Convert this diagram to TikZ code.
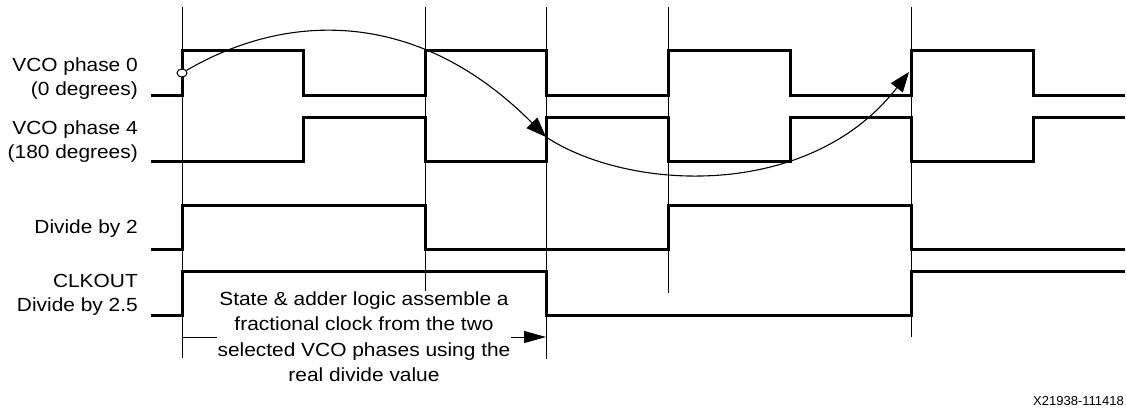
\documentclass[tikz,border=0pt]{standalone}
\usepackage{fontspec}
\setmainfont{Liberation Sans}[FakeStretch=1.1]
\newfontfamily\plainsans{Liberation Sans}
\usetikzlibrary{arrows.meta,shapes.geometric}
\begin{document}
\begin{tikzpicture}[x=1pt,y=-1pt,
  sig/.style={line width=3pt,line join=miter},
  gridline/.style={line width=1pt},
  curvearrow/.style={line width=1.1pt,-{Triangle[length=20pt,width=15pt]}},
  dimarrow/.style={line width=1pt,-{Triangle[length=22pt,width=12pt]}},
  lbl/.style={inner sep=0pt,align=right,font=\fontsize{19}{24}\selectfont},
  note/.style={fill=white,inner xsep=1pt,inner ysep=0pt,align=center,font=\fontsize{19}{25.6}\selectfont}]
\useasboundingbox (0,0) rectangle (1126,408);
% vertical reference lines
\draw[gridline] (182,7) -- (182,358);
\draw[gridline] (425,7) -- (425,293);
\draw[gridline] (546,7) -- (546,359);
\draw[gridline] (668,7) -- (668,293);
\draw[gridline] (911,7) -- (911,337);
% waveforms
\draw[sig] (151,95) -| (182,50) -| (303,95) -| (425,50) -| (546,95) -| (668,50) -| (790,95) -| (911,50) -| (1033,95) -- (1125,95);
\draw[sig] (151,161) -| (303,117) -| (425,161) -| (546,117) -| (668,161) -| (790,117) -| (911,161) -| (1033,117) -- (1125,117);
\draw[sig] (151,249) -| (182,205) -| (425,249) -| (668,205) -| (911,249) -- (1125,249);
\draw[sig] (151,315) -| (182,271) -| (546,315) -| (911,271) -- (1125,271);
% labels
\node[lbl,anchor=east] (l0) at (138,78.7) {VCO phase 0\\(0 degrees)};
\node[lbl,anchor=east] (l4) at (138,141.2) {VCO phase 4\\(180 degrees)};
\node[lbl,anchor=base east] (ld2) at (138,233) {Divide by 2};
\node[lbl,anchor=east] (lclk) at (138,294.7) {CLKOUT\\Divide by 2.5};
% phase arrows
\node[draw,ellipse,fill=white,line width=1pt,minimum width=10pt,minimum height=8pt,inner sep=0pt] (e0) at (182,73) {};
\coordinate (t1) at (546,137);
\coordinate (t2) at (909,72);
\draw[curvearrow] (e0) .. controls (290,10) and (420,10) .. (t1);
\draw[curvearrow] (t1) .. controls (630,192) and (810,200) .. (t2);
% dimension arrow with note
\coordinate (d0) at (182,337);
\coordinate (d1) at (546,337);
\draw[dimarrow] (d0) -- (d1);
\node[note] (txt) at (364,336.7) {State \& adder logic assemble a\\fractional clock from the two\\selected VCO phases using the\\real divide value};
% figure id
\node[inner sep=0pt,anchor=base east,font=\plainsans\fontsize{13}{15}\selectfont] (fid) at (1124,405) {X21938-111418};
\end{tikzpicture}
\end{document}
